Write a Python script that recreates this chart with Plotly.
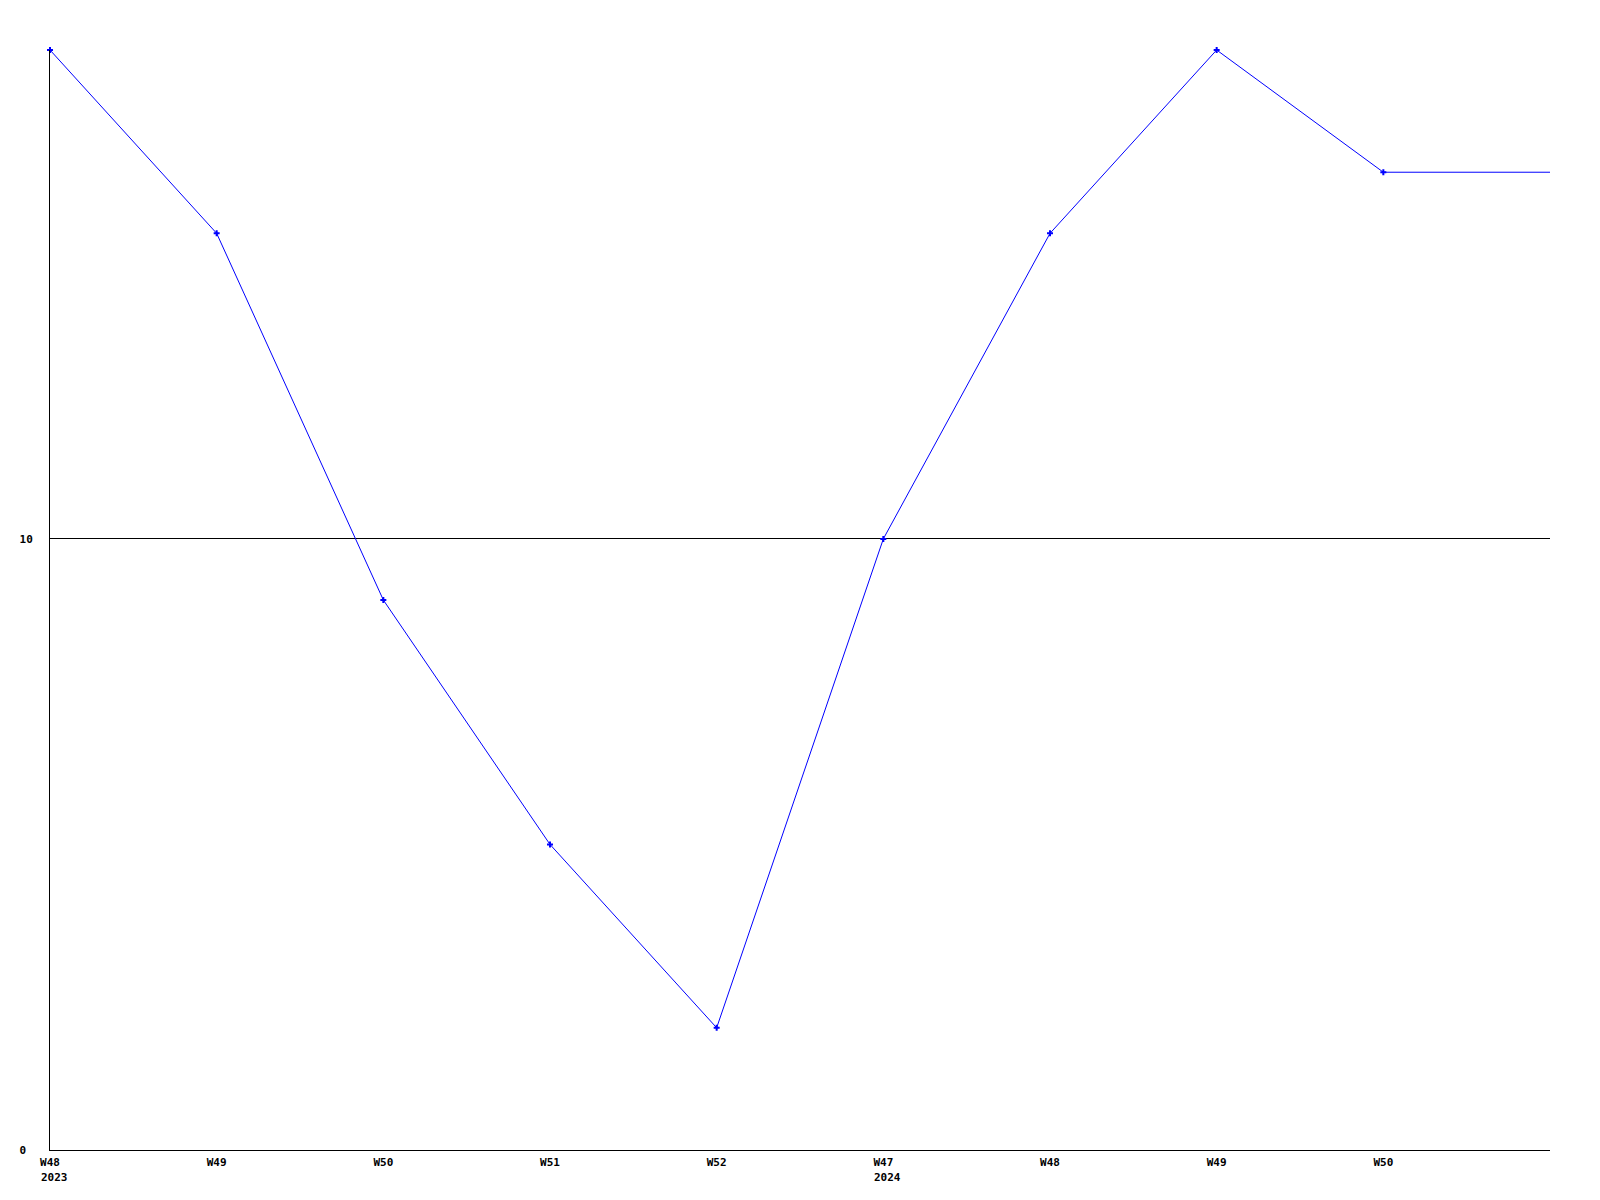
import plotly.graph_objects as go

week_labels = ["W48", "W49", "W50", "W51", "W52", "W47", "W48", "W49", "W50"]
year_labels = ["2023", "2024"]
year_positions = [0, 5]
x_idx = [0, 1, 2, 3, 4, 5, 6, 7, 8, 9]
values = [18, 15, 9, 5, 2, 10, 15, 18, 16, 16]
y_tick_vals = [0, 10]
y_tick_text = ["0\u00a0", "10"]

FONT = dict(family="DejaVu Sans Mono", size=11, color="black")

fig = go.Figure()
fig.add_trace(go.Scatter(
    x=x_idx, y=values, mode="lines",
    line=dict(color="#0000ff", width=1),
    hoverinfo="skip", showlegend=False,
))
fig.add_trace(go.Scatter(
    x=x_idx[:9], y=values[:9], mode="markers",
    marker=dict(symbol="cross", size=5, color="#0000ff", line=dict(width=0)),
    cliponaxis=False, showlegend=False,
))

for pos, lab in zip(year_positions, year_labels):
    fig.add_annotation(
        x=pos, xref="x", y=0, yref="paper", text="<b>%s</b>" % lab,
        showarrow=False, xanchor="left", yanchor="middle",
        xshift=-11, yshift=-27, font=FONT,
    )

# page body has an 8px default margin, so offsets are reduced by 8
fig.update_layout(
    width=1600, height=1200,
    margin=dict(l=42, r=58, t=42, b=58, autoexpand=False),
    paper_bgcolor="white", plot_bgcolor="white",
    font=FONT,
    xaxis=dict(
        range=[0, 9], tickmode="array", tickvals=x_idx[:9],
        ticktext=["<b>%s</b>" % w for w in week_labels],
        showgrid=False, zeroline=False, automargin=False,
        showline=True, linecolor="black", linewidth=1,
        ticks="outside", ticklen=2, tickcolor="rgba(0,0,0,0)", tickfont=FONT,
    ),
    yaxis=dict(
        range=[0, 18], tickmode="array", tickvals=y_tick_vals,
        ticktext=["<b>%s</b>" % t for t in y_tick_text],
        showgrid=True, gridcolor="black", gridwidth=1,
        zeroline=False, showline=True, linecolor="black", linewidth=1,
        ticks="outside", ticklen=14, tickcolor="rgba(0,0,0,0)",
        tickfont=FONT, automargin=False,
    ),
)

fig.write_html("out.html")
